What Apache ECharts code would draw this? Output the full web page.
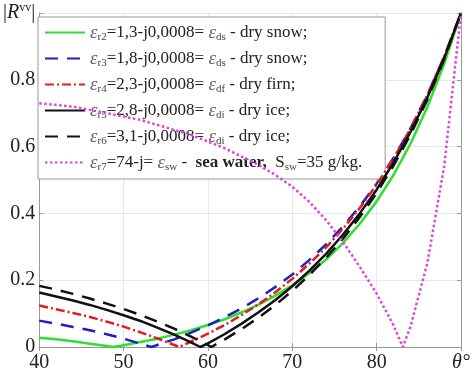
<!DOCTYPE html>
<html>
<head>
<meta charset="utf-8">
<script src="https://cdn.jsdelivr.net/npm/echarts@6/dist/echarts.min.js"></script>
<style>
  html, body { margin: 0; padding: 0; background: #fff; }
  #chart { width: 473px; height: 374px; }
</style>
</head>
<body>
<div id="chart"></div>
<script>
// incidence angle, degrees
var angles = [40, 42, 44, 46, 48, 50, 52, 54, 56, 58, 60, 62, 64, 66, 68, 70, 72, 74, 76, 78, 80, 82, 84, 86, 88, 90];

// |Rvv|
var snow13 = [0.028, 0.023, 0.017, 0.010, 0.003, 0.005, 0.015, 0.025, 0.037, 0.050, 0.066, 0.083, 0.104, 0.127, 0.154, 0.185, 0.221, 0.262, 0.311, 0.369, 0.436, 0.515, 0.608, 0.718, 0.847, 1];
var snow18 = [0.079, 0.070, 0.060, 0.050, 0.038, 0.025, 0.010, 0.006, 0.023, 0.043, 0.065, 0.089, 0.116, 0.146, 0.180, 0.217, 0.260, 0.307, 0.361, 0.421, 0.489, 0.566, 0.654, 0.754, 0.869, 1];
var firn23 = [0.124, 0.113, 0.102, 0.090, 0.076, 0.061, 0.044, 0.026, 0.006, 0.016, 0.040, 0.066, 0.096, 0.128, 0.164, 0.204, 0.249, 0.298, 0.354, 0.416, 0.486, 0.564, 0.653, 0.754, 0.869, 1];
var ice28 = [0.163, 0.151, 0.139, 0.126, 0.111, 0.095, 0.078, 0.058, 0.037, 0.014, 0.011, 0.039, 0.070, 0.104, 0.141, 0.182, 0.228, 0.279, 0.336, 0.400, 0.471, 0.552, 0.643, 0.746, 0.864, 1];
var ice31 = [0.183, 0.172, 0.159, 0.145, 0.130, 0.114, 0.096, 0.076, 0.055, 0.031, 0.006, 0.023, 0.054, 0.088, 0.126, 0.168, 0.215, 0.267, 0.324, 0.389, 0.461, 0.543, 0.635, 0.740, 0.861, 1];
var sea74 = [0.73, 0.725, 0.72, 0.71, 0.70, 0.69, 0.68, 0.665, 0.65, 0.635, 0.615, 0.595, 0.57, 0.545, 0.515, 0.48, 0.435, 0.38, 0.315, 0.24, 0.16, 0.065, 0.06, 0.25, 0.54, 1];

// angle where each curve touches zero
var minAngles = [48.7, 53.3, 56.6, 59.1, 60.4, 83.1];

var names = ['r2', 'r3', 'r4', 'r5', 'r6', 'r7'];
var legendText = [
    '{e|ε}{s|r2}=1,3-j0,0008= {e|ε}{s|ds} - dry snow;',
    '{e|ε}{s|r3}=1,8-j0,0008= {e|ε}{s|ds} - dry snow;',
    '{e|ε}{s|r4}=2,3-j0,0008= {e|ε}{s|df} - dry firn;',
    '{e|ε}{s|r5}=2,8-j0,0008= {e|ε}{s|di} - dry ice;',
    '{e|ε}{s|r6}=3,1-j0,0008= {e|ε}{s|di} - dry ice;',
    '{e|ε}{s|r7}=74-j= {e|ε}{s|sw} -  {b|sea water,}  S{s|sw}=35 g/kg.'
];

function points(vals, zeroAt) {
    var p = angles.map(function (a, i) { return [a, vals[i]]; });
    p.push([zeroAt, 0]);
    p.sort(function (a, b) { return a[0] - b[0]; });
    return p;
}

var serif = "'Liberation Serif', 'Times New Roman', serif";
var chart = echarts.init(document.getElementById('chart'), null, { renderer: 'canvas' });

function line(i, vals, color, type) {
    return {
        name: names[i],
        type: 'line',
        data: points(vals, minAngles[i]),
        showSymbol: false,
        symbol: 'none',
        smooth: false,
        lineStyle: { color: color, width: 2.5, type: type },
        itemStyle: { color: color },
        z: 2 + i
    };
}

var option = {
    animation: false,
    grid: { left: 36, right: 12, top: 13, bottom: 27 },
    legend: {
        orient: 'vertical',
        left: 38,
        top: 17,
        padding: [6, 23, 6, 6],
        itemGap: 6,
        itemWidth: 40,
        itemHeight: 14,
        backgroundColor: '#fff',
        borderColor: '#999',
        borderWidth: 1,
        borderRadius: 0,
        itemStyle: { opacity: 0 },
        data: names,
        formatter: function (n) { return legendText[names.indexOf(n)]; },
        textStyle: {
            fontFamily: serif,
            fontSize: 17,
            color: '#222',
            rich: {
                e: { fontFamily: serif, fontStyle: 'italic', fontSize: 19, color: '#666' },
                s: { fontFamily: serif, fontSize: 11, color: '#444', padding: [10, 0, 0, 0] },
                b: { fontFamily: serif, fontSize: 17, fontWeight: 'bold', color: '#222' }
            }
        }
    },
    xAxis: [{
        type: 'value',
        min: 40,
        max: 90,
        interval: 10,
        axisLine: { show: true, lineStyle: { color: '#999' } },
        axisTick: { show: true, inside: true, length: 4, lineStyle: { color: '#999' } },
        splitLine: { show: true, lineStyle: { color: '#e8e8e8' } },
        axisLabel: {
            margin: 6,
            fontFamily: serif,
            fontSize: 20,
            color: '#222',
            formatter: function (v) { return v === 90 ? '{t|θ°}' : String(v); },
            rich: { t: { fontFamily: serif, fontStyle: 'italic', fontSize: 20, color: '#222' } }
        }
    }, {
        type: 'value',
        position: 'top',
        min: 40,
        max: 90,
        interval: 10,
        axisLine: { show: true, lineStyle: { color: '#999' } },
        axisTick: { show: true, inside: true, length: 4, lineStyle: { color: '#999' } },
        splitLine: { show: false },
        axisLabel: { show: false }
    }],
    yAxis: [{
        type: 'value',
        min: 0,
        max: 1,
        interval: 0.2,
        axisLine: { show: true, lineStyle: { color: '#999' } },
        axisTick: { show: true, inside: true, length: 4, lineStyle: { color: '#999' } },
        splitLine: { show: true, lineStyle: { color: '#e8e8e8' } },
        axisLabel: {
            margin: 4,
            fontFamily: serif,
            fontSize: 20,
            color: '#222',
            formatter: function (v) {
                if (v === 1) return '|{i|R}{p|vv}|';
                return String(Math.round(v * 10) / 10);
            },
            rich: {
                i: { fontFamily: serif, fontStyle: 'italic', fontSize: 20, color: '#222' },
                p: { fontFamily: serif, fontSize: 12, color: '#222', padding: [0, 0, 10, 0] }
            }
        }
    }, {
        type: 'value',
        position: 'right',
        min: 0,
        max: 1,
        interval: 0.2,
        axisLine: { show: true, lineStyle: { color: '#999' } },
        axisTick: { show: true, inside: true, length: 4, lineStyle: { color: '#999' } },
        splitLine: { show: false },
        axisLabel: { show: false }
    }],
    series: [
        line(0, snow13, '#2ee02e', 'solid'),
        line(1, snow18, '#1f1fc8', [13, 9]),
        line(2, firn23, '#e01c1c', [9, 3, 2, 3]),
        line(3, ice28, '#111111', 'solid'),
        line(4, ice31, '#111111', [13, 9]),
        line(5, sea74, '#dd44dd', [2.5, 2.5])
    ]
};

chart.setOption(option);
</script>
</body>
</html>
